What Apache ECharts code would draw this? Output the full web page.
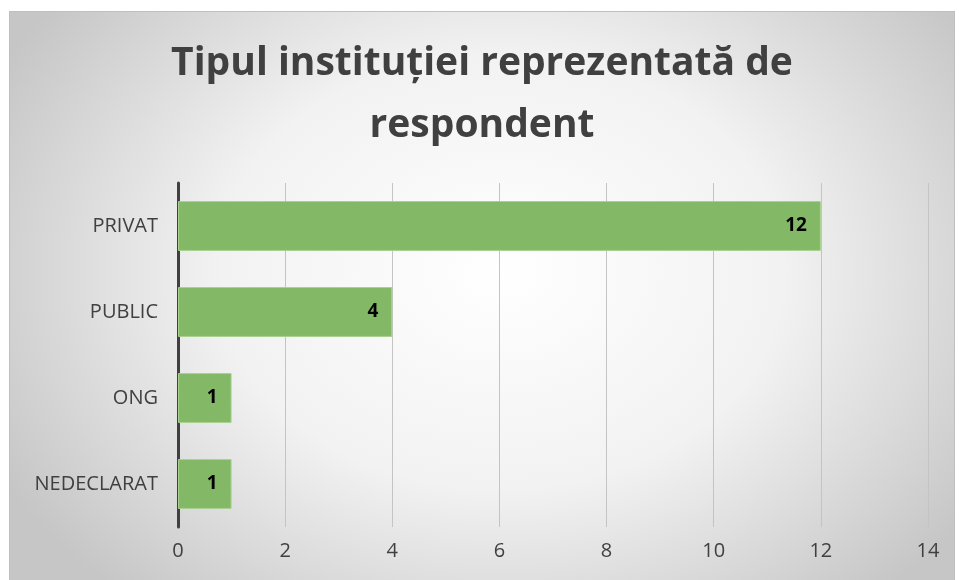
<!DOCTYPE html>
<html>
<head>
<meta charset="utf-8">
<script src="https://cdn.jsdelivr.net/npm/echarts@6/dist/echarts.min.js"></script>
<style>
  html, body { margin: 0; padding: 0; background: #fff; overflow: hidden; }
  #chart {
    position: absolute; left: 9px; top: 11px; width: 946px; height: 580px;
    border: 1px solid #bfbfbf; box-sizing: border-box;
    background: radial-gradient(ellipse 60% 75% at 52% 45%, #ffffff 0%, #f2f2f2 50%, #c6c6c6 100%);
  }
</style>
</head>
<body>
<div id="chart"></div>
<script>
var categories = ["PRIVAT", "PUBLIC", "ONG", "NEDECLARAT"];
var values = [12, 4, 1, 1];
var xTicks = [0, 2, 4, 6, 8, 10, 12, 14];

var myChart = echarts.init(document.getElementById("chart"));

myChart.setOption({
  animation: false,
  title: {
    text: "Tipul instituției reprezentată de\nrespondent",
    left: "center",
    top: 16,
    textStyle: {
      fontFamily: "Open Sans",
      fontSize: 39,
      fontWeight: "bold",
      color: "#404040",
      lineHeight: 62
    }
  },
  grid: {
    left: 168,
    right: 26,
    top: 171,
    height: 344,
    containLabel: false
  },
  xAxis: {
    type: "value",
    min: 0,
    max: 14,
    interval: 2,
    axisLine: { show: false },
    axisTick: { show: false },
    splitLine: { lineStyle: { color: "#c4c4c4", width: 1 } },
    axisLabel: {
      color: "#404040",
      fontFamily: "Open Sans",
      fontSize: 20,
      margin: 14,
      formatter: function (v) { return xTicks.indexOf(v) >= 0 ? String(v) : ""; }
    }
  },
  yAxis: {
    type: "category",
    inverse: true,
    data: categories,
    axisLine: { show: true, lineStyle: { color: "#404040", width: 3 } },
    axisTick: { show: false },
    axisLabel: {
      color: "#404040",
      fontFamily: "Open Sans",
      fontSize: 20,
      margin: 20
    }
  },
  series: [
    {
      type: "bar",
      data: values,
      barCategoryGap: "42%",
      itemStyle: {
        color: "#82b866",
        borderColor: "#a8d190",
        borderWidth: 1
      },
      label: {
        show: true,
        position: "insideRight",
        distance: 14,
        color: "#000",
        fontFamily: "Open Sans",
        fontWeight: "bold",
        fontSize: 19
      }
    }
  ]
});
</script>
</body>
</html>
